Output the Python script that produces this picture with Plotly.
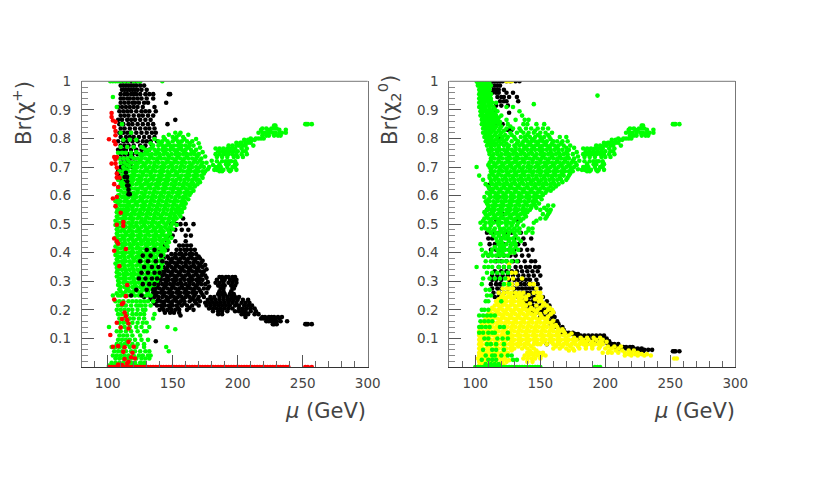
import plotly.graph_objects as go

# Rows are (Br value, [mu values]).
green_tail = [
 (.85,[252,253,254,257]),(.845,[228,229]),(.835,[219,222,226,228,230]),(.83,[218,223,225,232,237]),
 (.82,[216,219,221,224,227,229,232,234,237]),(.81,[219,222,224,228,231,233]),(.80,[210,214,216,218,220]),
 (.795,[205,208,211,213]),(.785,[199,202,203,206,208,210]),(.775,[193,196,199,201,204,206,212]),
 (.765,[183,186,189,192,194,196,198,203,207]),(.755,[185,188,191,194,197,200,204,206]),
 (.745,[183,186,189,191,193,196,199,203,207]),(.735,[184,188,192,197,200,204]),
 (.72,[184,188,191,193,195,198]),(.71,[186,191,193,198,199]),(.70,[183,185,187,192,196,198]),
 (.69,[182,184,187,189,193,195,199]),(.685,[186,188,194]),
]
left_green_top = [
 (1,[102,104,106,108,110,113,116,120,123,125,142]),(.945,[104]),(.91,[107]),(.85,[111]),(.82,[110,118]),
 (.795,[112,117,122]),(.77,[110,115,120,126]),(.75,[108,111,114,118]),(.73,[109,112,115]),(.715,[110,113]),
 (.70,[112]),(.685,[109,112]),(.67,[111]),(.655,[108]),(.64,[110]),(.62,[108]),(.60,[108]),(.58,[106,107]),
]
left_green_body = [
 (.82,[152,156]),(.805,[143,150,153,158]),(.79,[139,142,146,150,154,157,161,165]),
 (.775,[135,139,142,145,148,151,154,157,160,163,166]),
 (.76,[129,132,136,139,142,145,148,151,154,157,160,164,168]),
 (.745,[125,128,131,134,137,140,143,146,149,152,155,158,161,164,167,170]),
 (.73,[120,123,126,129,132,135,138,141,144,147,150,153,156,159,162,165,168,172]),
 (.715,[118,121,124,127,130,133,136,139,142,145,148,151,154,157,160,163,166,169,173,176]),
 (.70,[117,120,123,126,129,132,135,138,141,144,147,150,153,156,159,162,165,168,171,174,178]),
 (.685,[116,119,122,125,128,131,134,137,140,143,146,149,152,155,158,161,164,167,170,173,175]),
 (.67,[115,118,121,124,127,130,133,136,139,142,145,148,151,154,157,160,163,166,169,172]),
 (.655,[115,117,120,123,126,129,132,135,138,141,144,147,150,153,156,159,162,165,168,170]),
 (.64,[113,116,119,122,125,128,131,134,137,140,143,146,149,152,155,158,161,164,166,169]),
 (.625,[113,115,118,121,124,127,130,133,136,139,142,145,148,151,154,157,160,163,165]),
 (.61,[112,114,117,120,123,126,129,132,135,138,141,144,147,150,153,156,159,162,164]),
 (.595,[111,113,116,119,122,125,128,131,134,137,140,143,146,149,152,155,158,160]),
 (.58,[110,113,115,118,121,124,127,130,133,136,139,142,145,148,151,154,157,159]),
 (.565,[110,112,114,117,120,123,126,129,132,135,138,141,144,147,150,153,156,158]),
 (.55,[109,111,113,116,119,122,125,128,131,134,137,140,143,146,149,152,155,157]),
 (.535,[109,112,115,118,121,124,127,130,133,136,139,142,145,148,151,155]),
 (.52,[108,111,114,117,120,123,126,129,132,135,138,141,144,147,150,153]),
 (.505,[108,110,113,116,119,122,125,128,131,134,137,140,143,146,150]),
 (.49,[108,111,114,117,120,123,126,129,132,135,138,141,144,148]),
 (.475,[108,110,113,116,119,122,125,128,131,134,137,140,143,147]),
 (.46,[108,111,114,117,120,123,126,129,132,135,138,141,144,146]),
 (.445,[108,110,113,116,119,122,125,128,131,134,137,140,143,146]),
 (.43,[108,111,114,117,120,123,126,129,132,135,138,141,145]),
 (.415,[108,110,113,116,119,122,125,128,131,134,137,140,143]),
 (.40,[108,111,114,117,120,123,126,129,132,135,138,141]),
 (.385,[108,110,113,116,119,122,125,128,131,134,137,141]),
 (.37,[108,111,114,117,120,123,126,129,132,135,138,140]),
 (.355,[108,110,113,116,119,122,125,128,131,134,137,141]),
 (.34,[108,111,114,117,120,123,126,129,132,135,139]),
 (.325,[109,112,115,118,121,124,127,130,133,136,138]),
 (.31,[109,111,114,117,120,123,126,129,132,135,137]),
 (.295,[109,112,115,118,121,124,127,130,133,135]),
 (.28,[110,113,116,119,122,125,128,132]),
 (.265,[110,114,117,120,123,126,130]),
]
left_green_fill = [
 (.813,[147,155,162]),(.798,[136,144,152,159,168]),(.783,[133,141,147,155,163,170]),
 (.768,[127,134,143,149,156,162,171]),(.752,[122,130,138,144,153,159,166,173]),
 (.737,[118,126,133,140,147,154,161,169,175]),(.722,[116,125,131,138,146,152,158,167,171,180]),
 (.707,[115,122,128,136,143,149,157,164,172,181]),(.692,[114,121,130,135,142,150,156,163,169,177]),
 (.677,[113,120,127,133,141,147,153,162,168,174]),(.662,[112,119,125,134,140,146,155,161,167,173]),
 (.647,[111,118,124,130,139,145,152,159,165,171]),(.632,[111,117,126,132,138,144,151,158,163,167]),
 (.617,[110,116,123,129,136,143,150,155,161,166]),(.602,[109,115,121,128,135,141,147,154,160,163]),
 (.587,[108,114,120,126,134,140,146,152,158,162]),(.572,[108,116,122,128,133,139,145,151,157,160]),
 (.557,[107,115,119,127,132,138,144,150,154,159]),(.542,[107,114,120,125,131,137,143,149,153,157]),
 (.527,[107,113,118,124,130,136,141,148,152,156]),(.512,[106,112,119,126,129,135,142,147,151]),
 (.497,[106,113,118,122,128,134,139,145,149,153]),(.482,[107,112,117,124,130,136,141,146,150]),
 (.467,[107,114,119,125,131,137,142,148]),(.452,[106,112,118,124,129,136,140,145,149]),
 (.437,[107,113,120,126,131,135,142,147]),(.422,[106,112,118,123,130,136,141,146]),
 (.407,[107,113,119,125,131,137,142,144]),(.392,[106,112,118,124,130,135,140,143]),
 (.377,[107,113,120,125,131,136,142]),(.362,[106,112,118,124,130,137,142]),
 (.347,[107,113,119,126,131,136,141]),(.332,[107,114,120,125,132,137,140]),
 (.317,[107,113,119,124,131,136,139]),(.302,[108,113,120,126,130,134,138]),
 (.287,[108,115,121,127,131,134,136]),(.272,[109,115,121,127,129,133]),(.258,[107,112,119,125,131]),
]
left_green_low = [
 (.25,[104,108,110,113,115,118,121,124,127,130,133]),(.23,[106,109,112,116,119,122,125,128,131,135]),
 (.215,[108,111,114,118,122,124,126,129,133]),(.2,[107,110,113,116,119,123,127,129]),
 (.185,[108,111,115,119,122,125,128,136]),(.17,[109,113,117,120,124,128,135]),
 (.155,[109,112,115,119,123,127,130]),(.14,[101,110,113,117,122,126,132,146]),(.132,[152]),
 (.125,[107,110,114,118,123,128,130]),(.11,[109,112,115,119,125]),(.095,[108,111,114,117,121,126,131]),
 (.08,[107,110,113,115,119,123,128]),(.07,[103,106,109,112,117,122,128,145]),
 (.055,[105,108,111,114,118,121,125,129,132,147]),(.04,[104,107,110,113,116,120,124,127,131,133]),
 (.03,[106,109,112,115,118,122,126,129,132]),(.015,[103,106,109,112,115,118,121,125,128]),
 (.005,[101,104,107,110,113,116,119,122,125,128]),
]
left_black_top = [
 (1,[110,112,114,116,118,120,122,124,125]),(.985,[110,112,114,116,118,120,122,125,128]),
 (.97,[111,113,115,117,119,121,123,126,130]),(.955,[110,113,115,118,120,122,125,129,132,135,147,148]),
 (.94,[110,112,115,117,120,123,126,130,135]),(.925,[110,113,116,119,121,124,128,131,145]),
 (.91,[108,111,114,117,120,123,127,136]),(.895,[109,112,115,118,122,126,129,132,137]),
 (.88,[110,113,116,120,124,127,131,135]),(.865,[108,111,115,118,121,125,129,133,152]),
 (.85,[109,112,116,119,123,127,131,135,146]),(.835,[110,113,117,121,125,129,132,136]),
 (.82,[109,112,115,118,122,126,130,134,137]),(.805,[110,114,117,120,124,128,132,136]),
 (.79,[108,112,115,119,123,127,130,133,138]),(.775,[110,113,116,120,125,129,134]),
 (.76,[108,111,114,118,122,126,129,132]),(.745,[110,113,116,119,123,127]),
 (.73,[111,114,117,120]),(.715,[112,115,118,122]),(.70,[110,113,116,119]),(.685,[108,111,114]),
 (.67,[109,113]),(.655,[110,112]),(.64,[111]),
]
left_black_blob = [
 (.52,[152,158]),(.50,[149,153,156,160,166]),(.48,[148,152,157,162]),(.46,[147,150,160,164]),
 (.44,[146,152,160]),(.425,[144,155,158,161,164]),(.41,[140,146,153,156,159,161,164,167]),
 (.395,[140,149,152,155,157,160,163,165,168]),(.38,[137,143,147,150,153,156,159,162,165,168,171]),
 (.365,[145,148,151,154,157,160,163,166,169,172]),(.35,[143,146,149,152,155,158,161,164,167,170,173]),
 (.335,[141,144,147,150,153,156,159,162,165,168,171,174]),
 (.32,[139,142,145,148,151,154,157,160,163,166,169,172,175]),
 (.305,[138,141,144,147,150,153,156,159,162,165,168,171,173]),
 (.29,[136,139,142,145,148,151,154,157,160,163,166,169,172,175]),
 (.275,[134,137,140,143,146,149,152,155,158,161,164,167,170,174,177]),
 (.26,[131,135,138,141,144,147,150,153,156,159,162,165,168,172,176]),
 (.245,[128,133,136,139,142,145,148,151,154,157,160,163,166,170,174]),
 (.23,[135,138,141,144,147,150,153,156,159,163,167,171]),
 (.215,[138,141,144,147,150,153,157,161,165,170]),(.20,[140,143,146,149,152,155,161,166]),
 (.19,[144,148,151,155]),(.18,[156]),(.09,[137]),
 (.387,[146,152,158,164,170]),(.372,[149,155,161,167,173]),(.357,[147,153,160,166,171,175]),
 (.342,[145,151,157,163,169,176]),(.327,[143,149,155,162,168,173]),(.312,[140,146,152,158,164,170,176]),
 (.297,[139,145,151,156,163,170,177]),(.282,[138,144,150,157,162,168,178]),(.267,[136,142,148,154,160,166,171]),
 (.252,[131,137,143,149,155,161,167,173]),(.237,[133,139,146,152,158,165,169]),(.222,[136,143,149,155,159,168]),
 (.207,[142,148,154,163]),
]
left_black_tail = [
 (.315,[186,188,191,193,196,198]),(.305,[184,188,190,194,197,199]),(.295,[183,186,189,193,196,199]),
 (.285,[185,188,190,195,198]),(.275,[187,189,196,197]),(.265,[186,189,195]),(.255,[185,188,190,194,197]),
 (.245,[179,182,186,189,192,195,198,201]),(.235,[177,180,183,186,189,192,194,197,200,204,208]),
 (.225,[175,178,181,184,187,190,193,196,199,203,206,209]),
 (.215,[176,179,182,185,188,191,194,198,201,205,208,211]),
 (.205,[178,181,184,187,190,193,196,201,204,207,210,213]),
 (.195,[181,185,188,192,198,201,204,206,210,214]),(.185,[185,188,203,205,208,213,216]),
 (.175,[206,219,221,224,226,228,231,234]),(.17,[218,220,222,225,227,229,232]),
 (.16,[222,224,226,228,230,233,238]),(.15,[227,228,230,252,253,254,257]),
]
left_black_over = [
 (.68,[114]),(.665,[113,115]),(.65,[115]),(.635,[115,116]),(.62,[116]),(.605,[117,116]),
 (.41,[130,136]),(.39,[127,133,141]),(.37,[125,131,137,142]),(.35,[128,134,139]),(.33,[126,131,136,140]),
 (.31,[124,129,134,138]),(.29,[127,132,136]),(.27,[122,130,135]),(.25,[118,126]),
]
left_red = [
 (.889,[103]),(.875,[103]),(.863,[104]),(.858,[106]),(.84,[105]),(.826,[106]),(.811,[106]),(.797,[101]),
 (.79,[105]),(.78,[106]),(.735,[105,107]),(.726,[106]),(.712,[103,106]),(.698,[107]),(.677,[107]),
 (.663,[107,109]),(.64,[105]),(.63,[108]),(.59,[104]),(.595,[107]),(.563,[106]),(.54,[110]),
 (.498,[107]),(.507,[112]),(.494,[112]),(.45,[105]),(.44,[107]),(.432,[108]),(.407,[105]),(.413,[114]),
 (.353,[109]),(.287,[115]),(.248,[114]),(.236,[105]),(.225,[112]),(.22,[111]),(.191,[113]),(.178,[114]),
 (.168,[111]),(.155,[107]),(.164,[115]),(.138,[110]),(.152,[116]),(.135,[116]),(.112,[102]),(.088,[116]),
 (.071,[104,120]),(.073,[108]),(.069,[113]),(.053,[112]),(.05,[119]),(.028,[113]),(.034,[118]),(.03,[121]),
 (.018,[116]),(.013,[115]),(.009,[108]),(.007,[111]),
 (0,[101,103,105,107,109,111,113,115,117,119,121,123,125,127,129,131,133,135,137,139,141,143,145,147,149,
     151,153,155,157,159,161,163,165,167,169,171,173,175,177,179,181,183,185,187,189,191,193,195,197,199,
     201,203,205,207,209,211,213,215,217,219,221,223,225,227,229,231,233,235,237,239,252,254,257]),
]

right_green_top = [
 (1,[101,103,105,107,109,111]),(.985,[102,104,106,108,110,112]),(.97,[103,105,107,109,111]),
 (.955,[103,105,107,109,112]),(.95,[194]),(.94,[103,105,108,110,112]),(.925,[103,105,107,110,113,116]),
 (.92,[145]),(.91,[103,106,108,111,114,124,129]),(.895,[104,107,110,113,117,134]),
 (.88,[104,107,110,113,116,120,136]),(.865,[105,108,111,114,117,124,131,138,141]),
 (.85,[105,108,111,114,118,125,137,140,147,153]),(.835,[106,109,112,115,119,124,129,134,139,143,148,152,156]),
 (.82,[106,109,112,116,120,127,132,137,141,145,150,154,159]),
 (.805,[107,110,113,117,121,125,130,135,138,142,146,150,153,157,165,170]),
 (.79,[108,111,114,118,122,128,133,137,140,143,146,149,152,155,160,163,167,171]),
 (.775,[109,112,115,118,122,126,130,134,137,140,143,146,149,152,155,158,161,164,168,173]),
 (.992,[102,105,108,110]),(.977,[104,106,108,110]),(.962,[104,106,108,110]),(.947,[104,107,109,111]),
 (.932,[104,106,109,112]),(.917,[105,107,110,112]),(.902,[105,108,111,115]),(.887,[105,109,112,115]),
 (.872,[106,109,112,115,118]),(.857,[107,110,113,116,119]),(.842,[107,110,113,116,120,127]),
 (.827,[108,111,114,118,122,135,146]),(.812,[108,111,115,119,123,128,140,148,156]),
 (.797,[109,112,116,120,124,131,139,144,151,158]),(.782,[110,113,116,120,124,132,136,142,148,154,159,166]),
]
right_green_body = [
 (.76,[110,113,116,119,122,125,128,131,134,137,140,143,146,149,152,155,158,161,164,167,172]),
 (.745,[111,114,117,120,123,126,129,132,135,138,141,144,147,150,153,156,159,162,165,168,171,175]),
 (.73,[112,115,118,121,124,127,130,133,136,139,142,145,148,151,154,157,160,163,166,169,172,176]),
 (.715,[111,114,117,120,123,126,129,132,135,138,141,144,147,150,153,156,159,162,165,168,171,174,177]),
 (.70,[101,111,113,116,119,122,125,128,131,134,137,140,143,146,149,152,155,158,161,164,167,170,173,176]),
 (.685,[112,115,118,121,124,127,130,133,136,139,142,145,148,151,154,157,160,163,166,169,172,175]),
 (.67,[103,111,114,117,120,123,126,129,132,135,138,141,144,147,150,153,156,159,162,165,168,172]),
 (.655,[106,112,115,118,121,124,127,130,133,136,139,142,145,148,151,154,157,160,163,166,170]),
 (.64,[108,113,116,119,122,125,128,131,134,137,140,143,146,149,152,155,158,161,164]),
 (.625,[111,114,117,120,123,126,129,132,135,138,141,144,147,150,153,156,160]),
 (.61,[109,112,115,118,121,124,127,130,133,136,139,142,145,148,151,154]),
 (.595,[107,112,115,118,121,124,127,130,133,136,139,142,145,148,150]),
 (.58,[108,111,114,117,120,123,126,129,132,135,138,141,144,147]),
 (.565,[110,113,116,119,122,125,128,131,134,137,140,143,146,156,160]),
 (.55,[109,112,115,118,121,124,127,130,133,136,139,142,150,155,158]),
 (.535,[108,111,114,117,120,123,126,129,132,135,138,152,156]),
 (.52,[107,110,113,116,119,122,125,128,131,134,137,150,154]),
 (.505,[104,108,111,114,117,120,123,126,129,133,145]),
 (.485,[105,108,111,115,119,122,126,130,134,141,144]),(.47,[112,116,119,122,126,130,134,139,144]),
 (.45,[116,120,123,126,129,133]),(.43,[104,118,121,124,128,131]),(.41,[105,113,117,120,123,126,129,133]),
 (.39,[106,110,113,116,119,122,125]),(.37,[108,112,115,118,121,124,128,132]),(.35,[101,107,110,113,118,122,126]),
 (.33,[109,113,117,121,125]),(.31,[106,111,115,119,123]),(.29,[105,122,126]),(.27,[108,111]),(.25,[109,112]),
 (.23,[108,110,120]),(.2,[105,107,110]),(.18,[103,106,109,112,115]),(.16,[104,107,110,113]),
 (.14,[103,105,108,111,119,122]),(.12,[103,106,110,113,115,125]),(.1,[107,110,117,121,125]),
 (.08,[109,112,116,122]),(.06,[106,113,116,122]),(.04,[108,113,115,120,125,128]),
 (.025,[105,110,113,116,129,132]),(.01,[108,112,115,118]),
 (0,[100,102,104,106,108,110,112,114,116,118,120,122,124,126,128,130,132,134,136,138,140,142,144,146,148,150,192,194,196]),
]
right_green_fill = [
 (.767,[112,118,125,131,138,145,150,157,163,170,176]),(.752,[111,117,124,130,136,143,151,158,164,170,178]),
 (.737,[113,119,126,132,139,146,152,159,165,171,179]),(.722,[112,118,125,131,137,144,150,156,163,169,175,180]),
 (.707,[110,115,121,127,133,141,148,154,160,166,172,178]),(.692,[112,119,124,130,136,142,149,156,162,168,174,179]),
 (.677,[113,118,125,131,137,144,150,155,161,167,173]),(.662,[111,116,123,129,135,141,147,153,159,165,171]),
 (.647,[112,118,124,130,136,143,149,154,160,167]),(.632,[110,116,122,127,133,140,146,152,158,162]),
 (.617,[113,119,125,131,137,143,149,155,158]),(.602,[111,116,122,128,134,140,146,152]),
 (.587,[110,117,123,128,134,141,146,151]),(.572,[109,115,121,127,133,139,145,149]),
 (.557,[110,114,120,126,131,137,143,147,153]),(.542,[107,113,119,125,131,137,140,157]),
 (.527,[109,115,120,127,133,139,155]),(.512,[106,112,118,124,130,135,147]),
 (.495,[107,112,118,124,128,132,137]),(.478,[110,114,120,124,128,132,141]),(.46,[114,118,122,125,131]),
 (.44,[117,120,126,130,135]),(.42,[115,119,122,127,131]),(.40,[108,112,118,121,127,130]),
]
right_black = [
 (1,[113,115,117,119,121,124,127,131,134]),(.985,[113,115,117,119]),(.97,[114,116,118,122]),
 (.96,[113,116,118,124,129]),(.945,[117,120,122,126,132]),(.93,[119,122,124,133]),(.915,[116,120,125]),
 (.9,[114]),(.89,[115,126]),(.87,[117]),(.85,[117,119,121]),(.83,[125,128]),(.8,[118,120]),
 (.636,[110]),(.625,[111]),(.595,[118]),(.55,[109,132]),(.535,[122]),(.51,[116,124,133]),
 (.47,[109,112,115,118,123,128,135]),(.45,[110,113,120,125,130,137,143]),(.43,[111,115,118,122,128,133,138]),
 (.41,[112,116,120,126,130,135,140,144]),(.39,[110,118,122,127,131,136,141]),
 (.37,[116,120,124,129,133,138,143,146]),(.35,[118,122,126,131,135,139,142,146,149]),
 (.335,[115,120,124,128,132,136,140,144,148]),(.32,[113,117,121,125,129,133,137,141,145,150]),
 (.305,[113,116,120,126,130,133,136,139,142,147]),(.29,[112,116,119,128,132,135,138,141,144,148]),
 (.275,[113,117,120,125,130,133,136,139,142,145,150]),(.26,[114,118,122,130,134,137,140,143,147]),
 (.245,[115,118,133,136,139,142,145,150,152]),(.23,[120,136,139,141,144,147,150,155]),
 (.215,[138,141,144,147,150,153,155,157]),(.2,[140,143,146,149,152,155,158]),
 (.19,[143,146,149,152,155,158,160]),(.175,[150,153,156,159,161]),(.16,[155,158,160,163]),
 (.15,[158,161,164]),(.14,[161,164,167]),(.13,[165,168]),(.12,[167,170,172,175]),(.115,[172,175,177,179]),
 (.11,[178,181,184,187,190,193,196,199]),(.10,[177,180,184,187,190,194,198,201]),(.09,[186,192,200,203]),
 (.08,[155,202,205,207,210]),(.07,[205,208,211,214,216,219,221]),(.065,[210,213,216,219,222,225,228]),
 (.06,[218,221,224,227,230,233,236]),(.055,[225,229,252,253,254,257]),
]
right_yellow = [
 (1,[124,126,128]),(.4,[127]),(.36,[126]),(.33,[128,131]),(.31,[125,129,136]),(.29,[124,128,132,142,145]),
 (.275,[121,124,126,129,147]),(.26,[118,122,125,128,131,134,137,145,148,150]),
 (.245,[120,122,125,127,130,133,136,139,148,151]),(.23,[116,119,121,124,127,130,133,136,149,151]),
 (.215,[115,118,121,124,127,130,133,136,139,147,152,155]),
 (.2,[112,115,118,121,124,127,130,133,136,139,142,145,148,156,159]),
 (.185,[110,113,116,119,122,125,128,131,134,137,140,143,146,150,158]),
 (.17,[108,111,114,117,120,123,126,129,132,135,138,141,144,147,150,153,155]),
 (.155,[105,108,111,114,117,120,123,126,129,132,135,138,141,144,147,150,153,156,158]),
 (.14,[104,107,110,113,116,119,122,125,128,131,134,137,140,143,146,149,152,155,158,160,163]),
 (.125,[103,106,109,112,115,118,121,124,127,130,133,136,139,142,145,148,151,154,157,160,163,165,168]),
 (.11,[103,105,108,111,114,117,120,123,126,129,132,135,138,141,144,147,150,153,156,159,162,165,168,172]),
 (.095,[103,106,109,112,115,118,121,124,127,130,133,136,139,142,145,148,151,154,157,160,163,166,169,172,175,178,183,187,193,198]),
 (.08,[103,105,108,111,114,117,120,123,126,129,132,135,138,141,145,148,150,155,160,163,165,168,171,174,177,180,183,186,189,192,195,198]),
 (.065,[103,106,109,112,115,118,121,124,127,130,136,140,145,160,165,170,175,180,185,190,195,200,205,210]),
 (.05,[103,105,108,111,114,117,120,123,125,140,143,146,149,152,198,202,205,210,215,220,225]),
 (.04,[103,106,109,112,115,118,122,138,141,145,148,151,154,215,220,225,230,235]),
 (.03,[102,105,108,111,114,117,120,123,137,140,143,146,150,253,255]),
 (.018,[103,106,109,113,116,120,124,140,144]),(.005,[103,106,110,114,118,122]),
 (.252,[121,127,132,135,141,149]),(.237,[118,123,129,134,139,146,150]),(.222,[117,122,128,134,137,142,153]),
 (.207,[113,119,125,131,137,143,150,157]),(.192,[111,117,123,129,135,141,147,154,160]),
 (.177,[109,115,121,127,133,139,145,151,156]),(.162,[107,113,119,125,131,137,143,149,155,160]),
 (.147,[105,111,117,123,129,135,141,147,153,159,162]),(.132,[104,110,116,122,128,134,140,146,152,158,164,167]),
 (.117,[104,109,115,121,127,133,139,145,151,157,163,169,174]),(.102,[104,110,116,122,128,134,140,146,152,158,164,170,176,181,186,191,196]),
 (.088,[104,110,116,122,128,134,140,146,152,158,164,170,176,181,185,190,196,201]),
 (.072,[104,110,116,122,128,133,138,143,162,167,173,179,185,190,196,202,207,212]),
 (.058,[104,110,116,122,128,142,147,172,176,203,208,213,218,222]),(.045,[104,110,116,120,143,150,218,223,228,232]),
 (.024,[104,108,112,116,121,126]),(.011,[105,108,112,117,121]),
]

def xs(*groups):
    return [x for rows in groups for _, row in rows for x in row]
def ys(*groups):
    return [y for rows in groups for y, row in rows for _ in row]

tick_x = [100,150,200,250,300]
tick_y = [.1,.2,.3,.4,.5,.6,.7,.8,.9,1]
tick_y_text = ["0.1","0.2","0.3","0.4","0.5","0.6","0.7","0.8","0.9","1"]

fig = go.Figure()
def add(color, ax, *groups):
    fig.add_trace(go.Scatter(x=xs(*groups), y=ys(*groups), mode="markers", xaxis=ax[0], yaxis=ax[1],
        marker=dict(color=color, size=4.6, line=dict(width=0)), showlegend=False, hoverinfo="skip"))

L = ("x","y"); R = ("x2","y2")
add("#000000", L, left_black_top, left_black_blob, left_black_tail)
add("#00ff00", L, left_green_top, left_green_body, left_green_fill, left_green_low, green_tail)
add("#000000", L, left_black_over)
add("#ff0000", L, left_red)
add("#000000", R, right_black)
add("#ffff00", R, right_yellow)
add("#00ff00", R, right_green_top, right_green_body, right_green_fill, green_tail)

# The page body has an 8px margin, so the figure is sized and placed inside it.
OFF = 8
W, H = 817-OFF, 490-OFF
ax_common = dict(showline=True, linewidth=1, showgrid=False, zeroline=False, automargin=False,
    ticks="inside", ticklen=12, tickwidth=1, tickcolor="#555555",
    tickfont=dict(family="DejaVu Sans", size=13.5, color="#444444"))
xax = dict(ax_common, range=[80,300], tickmode="array", tickvals=tick_x, ticklabelstandoff=4,
    linecolor="#333333", mirror=False,
    minor=dict(ticks="inside", ticklen=6, tickwidth=1, tickcolor="#666666", tick0=80, dtick=10))
yax = dict(ax_common, range=[0,1], tickmode="array", tickvals=tick_y, ticktext=tick_y_text, ticklabelstandoff=7,
    linecolor="#777777", mirror=True,
    minor=dict(ticks="inside", ticklen=6, tickwidth=1, tickcolor="#888888", tick0=0, dtick=.02))
yd = [(H-(367-OFF))/H, (H-(81.3-OFF))/H]
fig.update_layout(width=W, height=H, margin=dict(l=0,r=0,t=0,b=0), paper_bgcolor="white", plot_bgcolor="white",
    xaxis=dict(xax, domain=[(81.7-OFF)/W, (367.7-OFF)/W], anchor="y"), yaxis=dict(yax, domain=yd, anchor="x"),
    xaxis2=dict(xax, domain=[(449.3-OFF)/W, (735.3-OFF)/W], anchor="y2"), yaxis2=dict(yax, domain=yd, anchor="x2"))
for xr, yr in (("x domain","y domain"),("x2 domain","y2 domain")):
    fig.add_shape(type="line", xref=xr, yref=yr, x0=0, x1=1, y0=1, y1=1, line=dict(color="#777777", width=1))

def label(text, px, py, rot=0):
    fig.add_annotation(text=text, xref="paper", yref="paper", x=(px-OFF)/W, y=1-(py-OFF)/H, showarrow=False, textangle=rot,
        font=dict(family="DejaVu Sans", size=21, color="#444444"), xanchor="center", yanchor="middle")
label("Br(χ<sup>+</sup>)", 22, 113, -90)
label("Br(χ<sub>2</sub><sup>0</sup>)", 389, 110, -90)
label("<i>μ</i> (GeV)", 325, 411)
label("<i>μ</i> (GeV)", 694, 411)

fig.write_html("out.html")
